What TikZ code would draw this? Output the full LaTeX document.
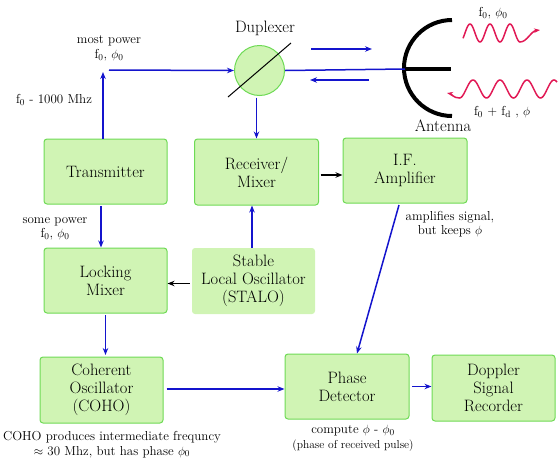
\documentclass[tikz,border=0pt]{standalone}
\usetikzlibrary{arrows.meta}
\definecolor{boxfill}{RGB}{208,244,180}
\definecolor{boxborder}{RGB}{110,218,85}
\definecolor{arrblue}{RGB}{20,20,205}
\definecolor{wavered}{RGB}{225,25,85}
\newcommand{\sbz}{\textsubscript{0}}
\begin{document}
\begin{tikzpicture}[x=1pt,y=-1pt,
  box/.style={draw=boxborder, fill=boxfill, rounded corners=3pt, line width=1pt,
    minimum width=123pt, minimum height=65pt, align=center, inner sep=0pt,
    font=\fontsize{16.5}{18}\selectfont},
  plainbox/.style={box, draw=none},
  lbl/.style={align=center, inner sep=0pt, font=\fontsize{13}{14.5}\selectfont},
  smalllbl/.style={align=center, inner sep=0pt, font=\fontsize{11.5}{13}\selectfont},
  biglbl/.style={inner sep=0pt, font=\fontsize{16.5}{18}\selectfont},
  barrow/.style={draw=arrblue, line width=1.5pt, -{Stealth[length=7pt,width=5.5pt]}},
  bline/.style={draw=arrblue, line width=1.5pt},
  karrow/.style={draw=black, line width=1.5pt, -{Stealth[length=7pt,width=5.5pt]}},
  wave/.style={draw=wavered, line width=1.5pt, -{Stealth[length=6pt,width=4.5pt]}},
  antenna/.style={draw=black, line width=4pt}
]
\useasboundingbox (0,0) rectangle (558,464);

% boxes
\node[box] (tx) at (105.5,171.5) {Transmitter};
\node[box, minimum width=124pt, minimum height=66pt] (rx) at (256.5,172) {Receiver/\\Mixer};
\node[box, minimum width=124pt] (ifa) at (405,170.5) {I.F.\\Amplifier};
\node[box] (lock) at (105.5,280.5) {Locking\\Mixer};
\node[plainbox, minimum height=66pt] (stalo) at (253.5,281) {Stable\\Local Oscillator\\(STALO)};
\node[box, minimum height=66pt] (coho) at (101.5,390) {Coherent\\Oscillator\\(COHO)};
\node[box, minimum width=124pt] (phase) at (347,386.5) {Phase\\Detector};
\node[box, minimum height=66pt] (dopp) at (493.5,388) {Doppler\\Signal\\Recorder};

% duplexer
\node[circle, draw=boxborder, fill=boxfill, line width=1pt, minimum size=50pt, inner sep=0pt] (dup) at (259.5,70.5) {};
\coordinate (slA) at (228,97);
\coordinate (slB) at (291,43);
\draw[black, line width=1pt] (slA) -- (slB);
\node[biglbl] (duplbl) at (265,28) {Duplexer};

% antenna
\coordinate (feed) at (405,69);
\coordinate (feedend) at (451,69);
\coordinate (dishtop) at (452,20);
\draw[antenna] (dishtop) arc[start angle=90, end angle=270, radius=48pt];
\draw[antenna] (feed) -- (feedend);
\node[biglbl] (antlbl) at (443,126) {Antenna};

% duplexer connections
\draw[bline] (dup.east) -- (feed);
\coordinate (ua1) at (311,49);
\coordinate (ua2) at (372,49);
\coordinate (la1) at (369,80);
\coordinate (la2) at (310,80);
\draw[barrow] (ua1) -- (ua2);
\draw[barrow] (la1) -- (la2);

% transmitter up to duplexer
\coordinate (txtop) at (103,72);
\coordinate (hstart) at (109,70);
\draw[barrow] ([xshift=-2.5pt]tx.north) -- (txtop);
\draw[barrow] (hstart) -- (dup.west);
\draw[barrow] ([yshift=-1.5pt]dup.south -| rx.north) -- (rx.north);

% waves
\draw[wave] plot[domain=463:520, samples=80, smooth] (\x,{33-9*cos(18*(\x-470))})
  .. controls (527,42) and (531,31) .. (540,30);
\draw[wave] plot[domain=557:459.5, samples=100, smooth] (\x,{89-9*cos(13.333*(\x-473))})
  .. controls (453,98) and (452,94) .. (447,93);
\node[lbl] (w1) at (493,13) {f\sbz, $\phi$\sbz};
\node[lbl] (w2) at (502,112) {f\sbz{} + f\textsubscript{d} , $\phi$};

% other connections
\draw[karrow] ([yshift=-3pt,xshift=1.5pt]rx.east) -- ([yshift=-3pt]rx.east -| ifa.west);
\draw[barrow] ([xshift=-1.5pt]stalo.north) -- ([xshift=-1.5pt]stalo.north |- rx.south);
\draw[karrow] ([yshift=-2.5pt,xshift=-2pt]stalo.west) -- ([yshift=-2.5pt]stalo.west -| lock.east);
\draw[barrow] ([xshift=-4.5pt,yshift=-1.5pt]tx.south) -- ([xshift=-4.5pt]lock.north);
\draw[barrow] ([yshift=-1.5pt]lock.south) -- ([yshift=1.5pt]lock.south |- coho.north);
\draw[barrow] ([yshift=1pt,xshift=3pt]coho.east) -- ([yshift=1pt]coho.east -| phase.west);
\draw[barrow] ([xshift=-6pt,yshift=-1.5pt]ifa.south) -- ([xshift=10pt]phase.north);
\draw[barrow] ([xshift=2.5pt]phase.east) -- (phase.east -| dopp.west);

% labels
\node[lbl] (mp) at (109,48.5) {most power\\f\sbz, $\phi$\sbz};
\node[lbl] (fr) at (54,100) {f\sbz{} - 1000 Mhz};
\node[lbl] (sp) at (55,229) {some power\\f\sbz, $\phi$\sbz};
\node[lbl] (amp) at (450,224) {amplifies signal,\\but keeps $\phi$};
\node[lbl] (cmp) at (353,431) {compute $\phi$ - $\phi$\sbz};
\node[smalllbl] (rcv) at (353,446) {(phase of received pulse)};
\node[lbl] (coholbl) at (112,444.5) {COHO produces intermediate frequncy\\$\approx$ 30 Mhz, but has phase $\phi$\sbz};
\end{tikzpicture}
\end{document}
